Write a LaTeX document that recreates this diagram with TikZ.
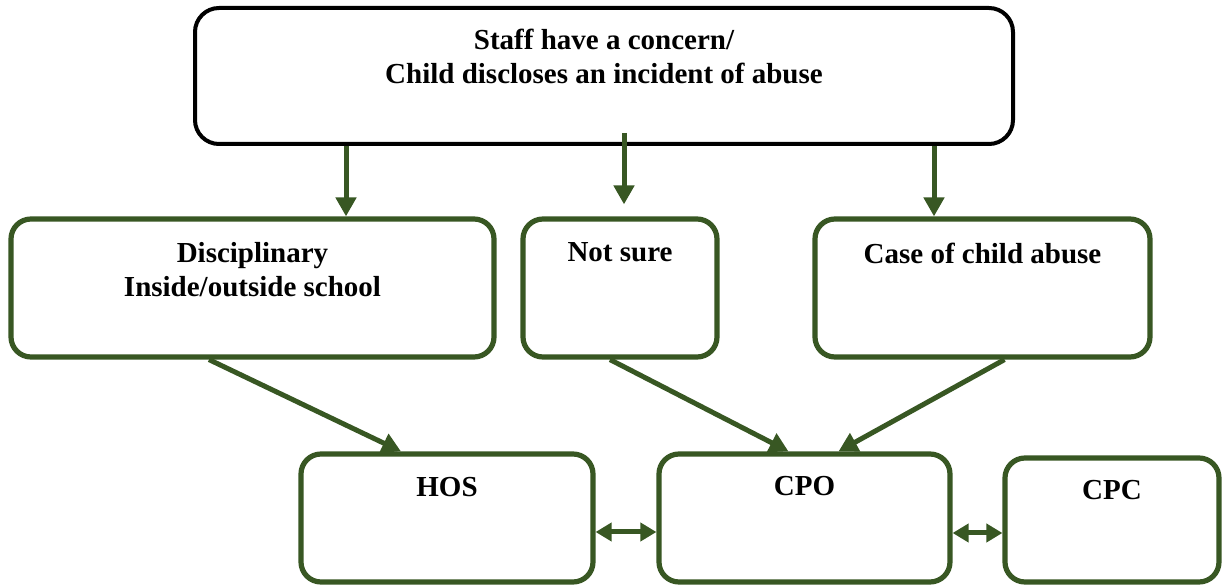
\documentclass[tikz,border=0pt]{standalone}
\usepackage{fontspec}
\setmainfont{Liberation Serif}
\usetikzlibrary{positioning,arrows.meta}
\definecolor{leaf}{RGB}{56,87,35}
\tikzset{
	box/.style={draw=leaf, line width=2.6pt, rounded corners=10pt, fill=white},
	txt/.style={inner sep=0pt, align=center, font=\bfseries\fontsize{14.5}{17}\selectfont},
	arr/.style={draw=leaf, line width=2.5pt, -{Triangle[width=10pt,length=9.5pt]}},
	twoway/.style={draw=leaf, line width=2.5pt, {Triangle[width=9pt,length=8pt]}-{Triangle[width=9pt,length=8pt]}}
}
\begin{document}
\begin{tikzpicture}[x=0.5pt,y=-0.5pt]
		\useasboundingbox (0,0) rectangle (1222,587);
		
		\node[box, draw=black, line width=2pt, rounded corners=12pt, minimum width=409pt, minimum height=68pt] (top) at (604,76) {};
		\node[txt, below=11.5pt of top.north] (topT) {Staff have a concern/\\Child discloses an incident of abuse};
		
		\node[box, minimum width=241.5pt, minimum height=69pt] (dis) at (252.5,288) {};
		\node[txt, below=13pt of dis.north] (disT) {Disciplinary\\Inside/outside school};
		\node[box, minimum width=97pt, minimum height=69pt] (not) at (620,288) {};
		\node[txt, below=13pt of not.north] (notT) {Not sure};
		\node[box, minimum width=167.5pt, minimum height=69pt] (case) at (982.5,288) {};
		\node[txt, below=13pt of case.north] (caseT) {Case of child abuse};
		
		\node[box, minimum width=146pt, minimum height=64pt] (hos) at (447,518) {};
		\node[txt, below=13pt of hos.north] (hosT) {HOS};
		\node[box, minimum width=145.5pt, minimum height=64pt] (cpo) at (804.5,518) {};
		\node[txt, below=12.5pt of cpo.north] (cpoT) {CPO};
		\node[box, minimum width=107pt, minimum height=62pt] (cpc) at (1112,520) {};
		\node[txt, below=12.5pt of cpc.north] (cpcT) {CPC};
		
		\draw[arr] ([xshift=-129pt]top.south) -- ([xshift=-129pt]top.south |- dis.north);
		\draw[arr] ([xshift=10pt,yshift=6.5pt]top.south) -- ([xshift=10pt,yshift=6pt]top.south |- not.north);
		\draw[arr] ([xshift=165pt]top.south) -- ([xshift=165pt]top.south |- case.north);
		
		\draw[arr] ([xshift=-21.75pt]dis.south) -- ([xshift=-23pt]hos.north);
		\draw[arr] ([xshift=-5pt]not.south) -- ([xshift=-8pt]cpo.north);
		\draw[arr] ([xshift=11pt]case.south) -- ([xshift=17pt]cpo.north);
		
		\draw[twoway] ([yshift=-7pt]hos.east) -- ([yshift=-7pt]cpo.west);
		\draw[twoway] ([yshift=-7.5pt]cpo.east) -- ([yshift=-6.5pt]cpc.west);
		
		\end{tikzpicture}
\end{document}
